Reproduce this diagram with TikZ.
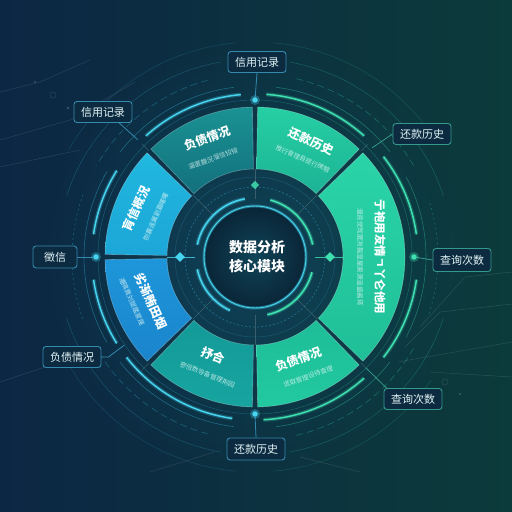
\documentclass[tikz,border=0pt]{standalone}
\usepackage{fontspec}
\setmainfont{Noto Sans CJK SC}
\usetikzlibrary{calc,fadings}
\tikzfading[name=myglow, inner color=transparent!0, outer color=transparent!100]
\definecolor{bgL}{HTML}{0C2744}
\definecolor{bgR}{HTML}{0C3B3B}
\definecolor{glowBg}{HTML}{12506A}
\definecolor{glowC}{HTML}{46D3EE}
\definecolor{glowG}{HTML}{3FE0B0}
\definecolor{ringC}{HTML}{2A8FB0}
\definecolor{ringG}{HTML}{2AA088}
\definecolor{boxF}{HTML}{0C2B40}
\definecolor{boxC}{HTML}{3489AE}
\definecolor{boxG}{HTML}{34998A}
\definecolor{lblT}{HTML}{E2F4F6}
\definecolor{subT}{HTML}{DDF6F4}
\definecolor{diskIn}{HTML}{0F4457}
\definecolor{diskOut}{HTML}{0A2638}
\definecolor{sA1}{HTML}{1A9294}
\definecolor{sA2}{HTML}{12707C}
\definecolor{sB1}{HTML}{26CFA4}
\definecolor{sB2}{HTML}{1CB394}
\definecolor{sC1}{HTML}{2AD4A8}
\definecolor{sC2}{HTML}{1FBF98}
\definecolor{sD1}{HTML}{1DBD98}
\definecolor{sD2}{HTML}{22C9A0}
\definecolor{sE1}{HTML}{139A98}
\definecolor{sE2}{HTML}{17A5A0}
\definecolor{sF1}{HTML}{1E96DA}
\definecolor{sF2}{HTML}{1A84CC}
\definecolor{sG1}{HTML}{20B8DE}
\definecolor{sG2}{HTML}{1CA6D8}
\newcommand{\mysegment}[3]{%
  \path[#1, shade, draw=white, draw opacity=0.28, line width=0.6pt]
    (#2:88pt) -- (#2:150pt) arc[start angle=#2, end angle=#3, radius=150pt]
    -- (#3:88pt) arc[start angle=#3, end angle=#2, radius=88pt] -- cycle;}
\newcommand{\myarc}[4][]{%
  \draw[#1] (#3:#2pt) arc[start angle=#3, end angle=#4, radius=#2pt];}
\tikzset{
  lblbase/.style={draw, rounded corners=3pt, line width=0.9pt, fill=boxF,
    text=lblT, font=\fontsize{11}{12}\selectfont, minimum height=21pt,
    inner xsep=7pt, inner ysep=2pt},
  lblC/.style={lblbase, draw=boxC},
  lblG/.style={lblbase, draw=boxG},
  ttl/.style={text=white, font=\bfseries\fontsize{12}{13}\selectfont, inner sep=0pt},
  subt/.style={text=subT, text opacity=0.8, font=\fontsize{6.5}{7}\selectfont, inner sep=0pt},
  conC/.style={boxC, line width=0.8pt},
  conG/.style={boxG, line width=0.8pt},
  faint/.style={white, opacity=0.12, line width=0.5pt},
  dotC/.style={circle, fill=glowC, inner sep=0pt, minimum size=5.5pt},
  dotG/.style={circle, fill=glowG, inner sep=0pt, minimum size=5.5pt},
}
\begin{document}
\begin{tikzpicture}[x=1pt,y=1pt]
\useasboundingbox (0,0) rectangle (512,512);
\shade[left color=bgL, right color=bgR] (0,0) rectangle (512,512);
\fill[glowBg, path fading=myglow, opacity=0.55] (255,255) circle (215pt);
% faint circuit lines
\draw[faint] (0,372) -- (70,392) -- (135,430);
\draw[faint] (0,345) -- (80,362);
\draw[faint] (0,420) -- (40,430) -- (90,452);
\draw[faint] (53,417) circle (3pt);
\fill[white, opacity=0.2] (68,404) circle (1.3pt);
\fill[white, opacity=0.2] (35,430) circle (1.1pt);
\draw[faint] (398,150) -- (512,170);
\draw[faint] (405,165) -- (440,200) -- (512,208);
\draw[faint] (430,140) -- (512,135);
\draw[faint] (420,185) -- (465,235) -- (512,240);
\draw[faint] (445,130) circle (3pt);
\fill[white, opacity=0.2] (460,118) circle (1.2pt);
\draw[faint] (0,130) -- (60,150);
\draw[faint] (150,40) -- (215,60);
\draw[faint] (300,55) -- (360,40);

\begin{scope}[shift={(255,255)}]
% outer rings
\myarc[ringC, opacity=0.3, line width=0.5pt]{215}{95}{150}
\myarc[ringG, opacity=0.3, line width=0.5pt]{215}{35}{85}
\myarc[ringC, opacity=0.3, line width=0.5pt]{215}{-95}{-150}
\myarc[ringG, opacity=0.3, line width=0.5pt]{215}{-35}{-85}
\myarc[ringC, opacity=0.4, line width=0.5pt]{198}{100}{162}
\myarc[ringG, opacity=0.4, line width=0.5pt]{198}{18}{80}
\myarc[ringC, opacity=0.4, line width=0.5pt]{198}{-100}{-162}
\myarc[ringG, opacity=0.4, line width=0.5pt]{198}{-18}{-80}
\myarc[ringC, opacity=0.5, line width=0.6pt, dash pattern=on 7pt off 4pt]{183}{105}{150}
\myarc[ringG, opacity=0.5, line width=0.6pt, dash pattern=on 7pt off 4pt]{183}{30}{78}
\myarc[ringC, opacity=0.5, line width=0.6pt, dash pattern=on 7pt off 4pt]{183}{-105}{-150}
\myarc[ringG, opacity=0.5, line width=0.6pt, dash pattern=on 7pt off 4pt]{183}{-30}{-78}
\myarc[ringC, opacity=0.5, line width=0.6pt, dash pattern=on 2pt off 3pt]{183}{160}{200}
\myarc[ringG, opacity=0.5, line width=0.6pt, dash pattern=on 2pt off 3pt]{183}{-18}{18}
\myarc[ringC, opacity=0.6, line width=0.6pt]{171}{97}{142}
\myarc[ringG, opacity=0.6, line width=0.6pt]{171}{38}{83}
\myarc[ringC, opacity=0.6, line width=0.6pt]{171}{-97}{-142}
\myarc[ringG, opacity=0.6, line width=0.6pt]{171}{-38}{-83}
\myarc[ringC, opacity=0.6, line width=0.6pt]{171}{150}{210}
\myarc[ringG, opacity=0.6, line width=0.6pt]{171}{-28}{28}
\myarc[ringC, opacity=0.45, line width=0.5pt]{157}{90}{270}
\myarc[ringG, opacity=0.45, line width=0.5pt]{157}{-90}{90}
% bright arcs
\foreach \a/\b/\c in {95/132/glowC, 48/86/glowG, -48/-87/glowG, -98/-142/glowC, 148/172/glowC, 188/212/glowC, 8/38/glowG, -8/-38/glowG} {
  \myarc[\c, opacity=0.25, line width=4pt]{163}{\a}{\b}
  \myarc[\c, line width=1.5pt]{163}{\a}{\b}
}
% segments
\mysegment{top color=sA1, bottom color=sA2}{91}{134}
\mysegment{top color=sB1, bottom color=sB2}{46}{89}
\mysegment{top color=sC1, bottom color=sC2}{-44}{44}
\mysegment{top color=sD1, bottom color=sD2}{-89}{-46}
\mysegment{top color=sE1, bottom color=sE2}{-134}{-91}
\mysegment{top color=sF1, bottom color=sF2}{181}{224}
\mysegment{top color=sG1, bottom color=sG2}{136}{179}
% inner structure
\draw[ringC, opacity=0.35, line width=0.5pt] (0,0) circle (80pt);
\draw[ringC, opacity=0.6, line width=0.7pt, dash pattern=on 2pt off 2pt] (0,0) circle (70pt);
\foreach \a in {45,135,-45,-135,90,-90} {
  \draw[white, opacity=0.18, line width=0.5pt] (\a:58pt) -- (\a:88pt);
}
\foreach \a in {45,135,-45,-135} {
  \draw[white, opacity=0.18, line width=0.5pt] (\a:150pt) -- (\a:160pt);
}
\fill[diskIn] (0,0) circle (52pt);
\shade[inner color=diskIn, outer color=diskOut] (0,0) circle (50pt);
\draw[glowC, opacity=0.35, line width=3pt] (0,0) circle (51pt);
\draw[glowC, line width=0.9pt] (0,0) circle (51pt);
\foreach \a/\b/\c in {100/168/glowC, 192/245/glowC, 12/75/glowG, -15/-78/glowG} {
  \myarc[\c, opacity=0.3, line width=4pt]{59}{\a}{\b}
  \myarc[\c, line width=1.6pt]{59}{\a}{\b}
}
\draw[glowC, line width=0.7pt, opacity=0.8] (180:60pt) -- (180:88pt);
\draw[glowG, line width=0.7pt, opacity=0.8] (0:60pt) -- (0:88pt);
\node[fill=glowC, minimum size=7pt, inner sep=0pt, rotate=45] (dmL) at (180:75pt) {};
\node[fill=glowG, minimum size=7pt, inner sep=0pt, rotate=45] (dmR) at (0:75pt) {};
\node[fill=glowG, opacity=0.85, minimum size=6pt, inner sep=0pt, rotate=45] (dmT) at (90:72pt) {};
% center text
\node[text=white, font=\bfseries\fontsize{14}{15}\selectfont, align=center, inner sep=0pt] (core) at (2,0) {数据分析\\[4pt]核心模块};
% segment texts
\node[ttl, rotate=20] (t1) at (112:128pt) {负债情况};
\node[subt, rotate=20] (s1) at (113:107pt) {逼匿馥況溜信铰铵};
\node[ttl, rotate=-24] (t2) at (64:129pt) {还款历史};
\node[subt, rotate=-24] (s2) at (64:109pt) {推行會理县提行牌驗};
\node[ttl, rotate=-90, font=\bfseries\fontsize{11.5}{12}\selectfont] (t3) at (0:125pt) {亍袍用友情ㄱ丫仑他用};
\node[subt, rotate=-90] (s3) at (0:105pt) {溜资觉驾匿冽鬓湿屋禀源溫盛酱蒋};
\node[ttl, rotate=20] (t4) at (-67:111pt) {负债情况};
\node[subt, rotate=20] (s4) at (-66:131pt) {谎取管理设待查理};
\node[ttl, rotate=-22] (t5) at (-113:107pt) {抒合};
\node[subt, rotate=-22] (s5) at (-112:127pt) {寥倍数导备管理荆园};
\node[ttl, rotate=-66] (t6) at (203:113pt) {劣渐贿田烟};
\node[subt, rotate=-66] (s6) at (200:131pt) {遷隅賣刘腿鑑蒙蔑};
\node[ttl, rotate=66] (t7) at (158:128pt) {肓信概況};
\node[subt, rotate=66] (s7) at (158:107pt) {刨囊遥翼劉蓋曙曙};
% connector ends
\node[dotC] (d1) at (90:157pt) {};
\node[dotG] (d4) at (0:159pt) {};
\node[dotC] (d6) at (-90:157pt) {};
\node[dotC] (d8) at (180:159pt) {};
\coordinate (e2) at (135:166pt);
\coordinate (e3) at (43:160pt);
\coordinate (e5) at (-45:157pt);
\coordinate (e7) at (-146:158pt);
\end{scope}
% labels
\node[lblC] (l1) at (257,450) {信用记录};
\node[lblC] (l2) at (103,400) {信用记录};
\node[lblG] (l3) at (422,378) {还款历史};
\node[lblG, minimum height=23pt] (l4) at (462,252) {查询次数};
\node[lblG] (l5) at (413,113) {查询次数};
\node[lblC, minimum height=22pt] (l6) at (256,63) {还款历史};
\node[lblC] (l7) at (72,155) {负债情况};
\node[lblC, minimum width=44pt, minimum height=22pt] (l8) at (55,255) {徵信};
% connectors
\draw[conC] (l1.south) -- (d1);
\draw[conC] ($(l2.south)!0.55!(l2.south east)$) -- (e2);
\draw[conG] (l3.west) -- (e3);
\draw[conG] (l4.west) -- (d4);
\draw[conG] (e5) -- ($(l5.north west)+(3,0)$);
\draw[conC] (l6.north) -- (d6);
\draw[conC] (l7.east) -- ++(7,0) -- (e7);
\draw[conC] (l8.east) -- (d8);
\fill[glowC, opacity=0.3] (d1) circle (5pt);
\fill[glowC, opacity=0.3] (d6) circle (5pt);
\fill[glowC, opacity=0.3] (d8) circle (5pt);
\fill[glowG, opacity=0.3] (d4) circle (5pt);
\end{tikzpicture}
\end{document}
